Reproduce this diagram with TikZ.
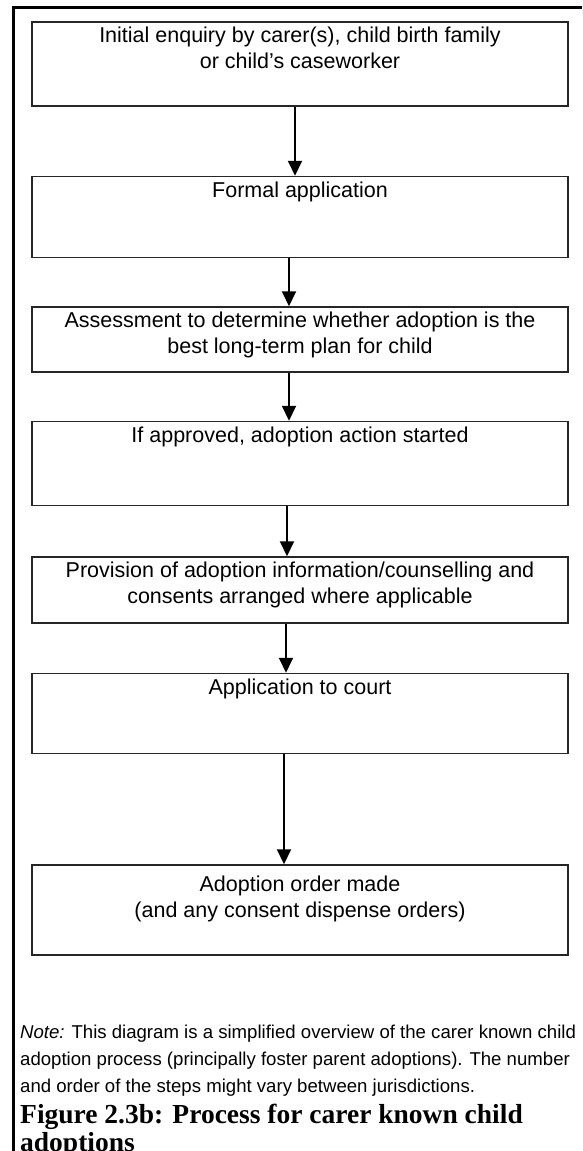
\documentclass[tikz,border=0pt]{standalone}
\usepackage{fontspec}
\setmainfont{Liberation Sans}
\newfontfamily\capserif{Liberation Serif}
\usetikzlibrary{arrows.meta,positioning}

% text of a step, set from the top of its box: [gap]{box height}{text}
\newcommand{\steptext}[3][2.5pt]{\parbox[t][#2][t]{520pt}{\centering\vspace*{#1}\strut#3\strut\par}}

\begin{document}
\begin{tikzpicture}[
  x=1pt,y=-1pt,
  font=\fontsize{21.5}{26}\selectfont,
  >={Triangle[length=15pt,width=14pt]},
  stepbox/.style={draw=black!85,line width=1.5pt,minimum width=536pt,inner sep=0pt},
  flow/.style={->,line width=2pt},
  note/.style={anchor=north west,align=left,inner sep=0pt,
               font=\fontsize{18.6}{27}\selectfont},
  figcap/.style={anchor=north west,align=left,inner sep=0pt,
                 font=\capserif\bfseries\fontsize{27.5}{26}\selectfont}
]
\useasboundingbox (0,0) rectangle (582,1151);

% frame round the figure
\draw[line width=3pt] (13,1151) -- (13,7) -- (582,7);

\node[stepbox] (s1) at (300,64) {\steptext{84pt}{Initial enquiry by carer(s), child birth family\\or child's caseworker}};
\node[stepbox,below=69pt of s1] (s2) {\steptext{81pt}{Formal application}};
\node[stepbox,below=48pt of s2] (s3) {\steptext{65pt}{Assessment to determine whether adoption is the\\best long-term plan for child}};
\node[stepbox,below=48pt of s3] (s4) {\steptext{84pt}{If approved, adoption action started}};
\node[stepbox,below=50pt of s4] (s5) {\steptext{66pt}{Provision of adoption information/counselling and\\consents arranged where applicable}};
\node[stepbox,below=49pt of s5] (s6) {\steptext{80pt}{Application to court}};
\node[stepbox,below=110pt of s6] (s7) {\steptext[8pt]{90pt}{Adoption order made\\(and any consent dispense orders)}};

\draw[flow] ([xshift=-5pt]s1.south) -- ([xshift=-5pt]s2.north);
\draw[flow] ([xshift=-11pt]s2.south) -- ([xshift=-11pt]s3.north);
\draw[flow] ([xshift=-11pt]s3.south) -- ([xshift=-11pt]s4.north);
\draw[flow] ([xshift=-13pt]s4.south) -- ([xshift=-13pt]s5.north);
\draw[flow] ([xshift=-14pt]s5.south) -- ([xshift=-14pt]s6.north);
\draw[flow] ([xshift=-16pt]s6.south) -- ([xshift=-16pt]s7.north);

\node[note] (note) at (20,1019) {\strut\textit{Note:} This diagram is a simplified overview of the carer known child\\adoption process (principally foster parent adoptions). The number\\and order of the steps might vary between jurisdictions.};

\node[figcap] (figcap) at (20,1104) {\strut Figure 2.3b: Process for carer known child\\adoptions};

\end{tikzpicture}
\end{document}
